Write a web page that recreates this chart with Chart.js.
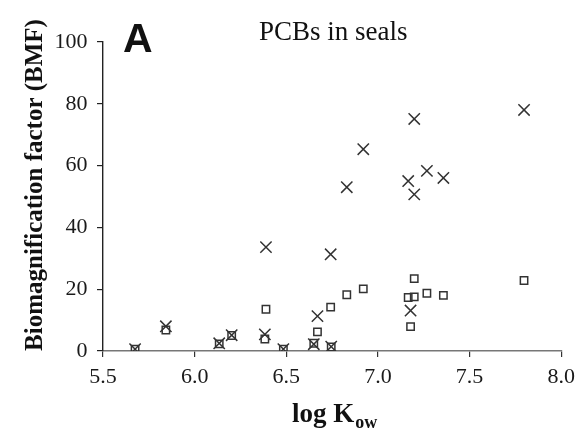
<!DOCTYPE html>
<html>
<head>
<meta charset="utf-8">
<script src="https://cdn.jsdelivr.net/npm/chart.js@4.4.1/dist/chart.umd.min.js"></script>
<style>
  html, body { margin: 0; padding: 0; background: #ffffff; }
  #wrap { width: 582px; height: 429px; position: relative; }
</style>
</head>
<body>
<div id="wrap"><canvas id="c" width="582" height="429"></canvas></div>
<script>
// ---- data ----
const logKow     = [5.675, 5.843, 6.134, 6.202, 6.389, 6.383, 6.484, 6.650, 6.670, 6.742, 6.745, 6.830, 6.920, 7.165, 7.198, 7.198, 7.178, 7.267, 7.357, 7.797];
const bmfCross   = [0.6,   8.0,   2.5,   5.1,   33.6,  5.4,   0.6,   2.2,   11.3,  31.3,  1.4,   53.0,  65.3,  55.0,  50.7,  75.1,  13.1,  58.3,  56.0,  78.0];
const bmfSquare  = [0.6,   6.8,   2.3,   5.0,   13.5,  3.9,   0.6,   2.5,   6.2,   14.2,  1.3,   18.2,  20.1,  17.3,  17.5,  23.4,  7.9,   18.7,  18.0,  22.8];
const xTicks     = [5.5, 6.0, 6.5, 7.0, 7.5, 8.0];
const yTicks     = [0, 20, 40, 60, 80, 100];
const panelLabel = "A";
const chartTitle = "PCBs in seals";
const yTitle     = "Biomagnification factor (BMF)";
const xTitleMain = "log K";
const xTitleSub  = "ow";

const toPoints = (xs, ys) => xs.map((x, i) => ({ x: x, y: ys[i] }));

const textPlugin = {
  id: 'texts',
  afterDraw(chart) {
    const ctx = chart.ctx;
    ctx.save();
    ctx.fillStyle = '#111';
    ctx.textBaseline = 'alphabetic';
    // panel letter
    ctx.font = 'bold 41px "Liberation Sans", Arial, sans-serif';
    ctx.textAlign = 'left';
    ctx.fillText(panelLabel, 123, 52);
    // title
    ctx.font = '27px "Liberation Serif", "Times New Roman", serif';
    ctx.fillText(chartTitle, 259, 40);
    // x title with subscript
    ctx.font = 'bold 27px "Liberation Serif", "Times New Roman", serif';
    ctx.fillText(xTitleMain, 292, 422);
    const w = ctx.measureText(xTitleMain).width;
    ctx.font = 'bold 18px "Liberation Serif", "Times New Roman", serif';
    ctx.fillText(xTitleSub, 292 + w + 1, 428);
    // y title rotated
    ctx.translate(42, 185);
    ctx.rotate(-Math.PI / 2);
    ctx.textAlign = 'center';
    ctx.font = 'bold 25px "Liberation Serif", "Times New Roman", serif';
    ctx.fillText(yTitle, 0, 0);
    ctx.restore();
  }
};

new Chart(document.getElementById('c'), {
  type: 'scatter',
  data: {
    datasets: [
      {
        label: 'BMF (squares)',
        data: toPoints(logKow, bmfSquare),
        pointStyle: 'rect',
        pointRadius: 5.2,
        pointHoverRadius: 5.2,
        borderWidth: 1.5,
        borderColor: '#333',
        backgroundColor: 'rgba(0,0,0,0)'
      },
      {
        label: 'BMF (crosses)',
        data: toPoints(logKow, bmfCross),
        pointStyle: 'crossRot',
        pointRadius: 8,
        pointHoverRadius: 8,
        borderWidth: 1.5,
        borderColor: '#333',
        backgroundColor: '#333'
      }
    ]
  },
  options: {
    responsive: false,
    animation: false,
    events: [],
    layout: { padding: { top: 42, right: 16, bottom: 0, left: 0 } },
    plugins: { legend: { display: false }, tooltip: { enabled: false }, title: { display: false } },
    scales: {
      x: {
        type: 'linear',
        min: 5.5, max: 8.0,
        afterBuildTicks: (s) => { s.ticks = xTicks.map(v => ({ value: v })); },
        afterFit: (s) => { s.height = 78; },
        ticks: {
          font: { family: '"Liberation Serif", "Times New Roman", serif', size: 22 },
          color: '#1a1a1a',
          padding: 7,
          maxRotation: 0,
          autoSkip: false,
          callback: (v) => Number(v).toFixed(1)
        },
        grid: { drawOnChartArea: false, drawTicks: true, tickLength: 6, color: '#333', lineWidth: 1.2 },
        border: { display: true, color: '#777', width: 1.5 }
      },
      y: {
        type: 'linear',
        min: 0, max: 100,
        afterBuildTicks: (s) => { s.ticks = yTicks.map(v => ({ value: v })); },
        afterFit: (s) => { s.width = 103; },
        ticks: {
          font: { family: '"Liberation Serif", "Times New Roman", serif', size: 22 },
          color: '#1a1a1a',
          padding: 9.5,
          autoSkip: false
        },
        grid: { drawOnChartArea: false, drawTicks: true, tickLength: 6, color: '#222', lineWidth: 1.2 },
        border: { display: true, color: '#222', width: 1.4 }
      }
    }
  },
  plugins: [textPlugin]
});
</script>
</body>
</html>
